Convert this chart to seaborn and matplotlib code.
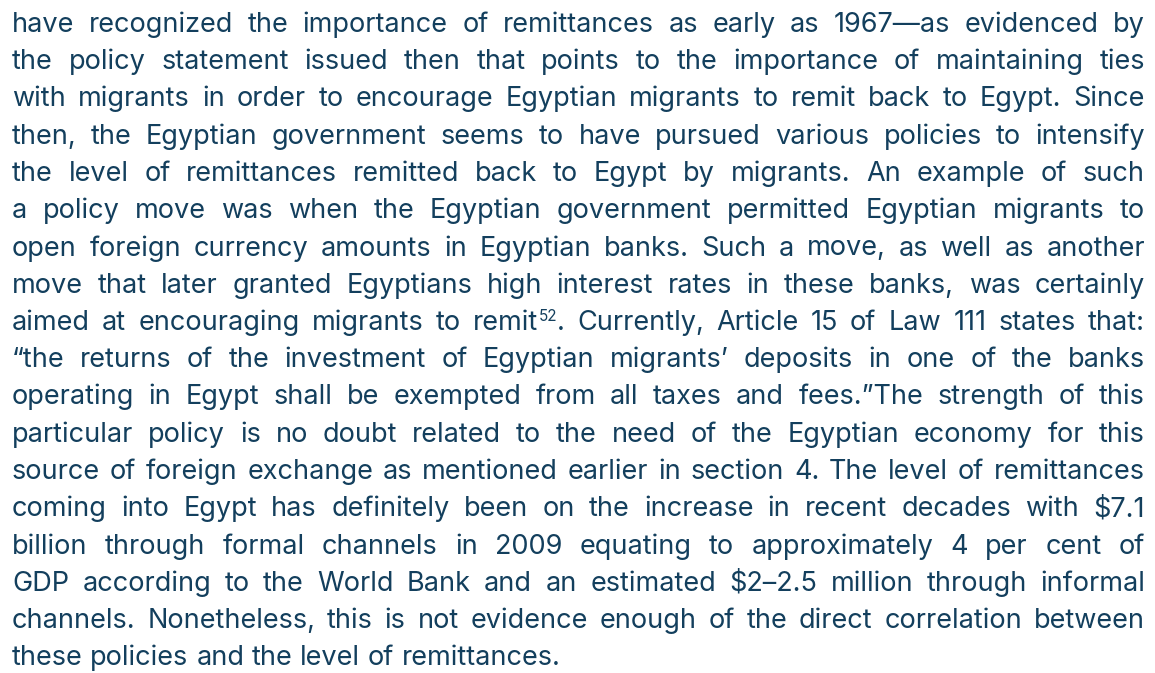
import re
import matplotlib
matplotlib.use("Agg")
import matplotlib.pyplot as plt
import seaborn as sns

# Paragraph text, one entry per printed line ({..} marks a superscript)
LINES = [
    "have recognized the importance of remittances as early as 1967\u2014as evidenced by",
    "the policy statement issued then that points to the importance of maintaining ties",
    "with migrants in order to encourage Egyptian migrants to remit back to Egypt. Since",
    "then, the Egyptian government seems to have pursued various policies to intensify",
    "the level of remittances remitted back to Egypt by migrants. An example of such",
    "a policy move was when the Egyptian government permitted Egyptian migrants to",
    "open foreign currency amounts in Egyptian banks. Such a move, as well as another",
    "move that later granted Egyptians high interest rates in these banks, was certainly",
    "aimed at encouraging migrants to remit{52}. Currently, Article 15 of Law 111 states that:",
    "\u201cthe returns of the investment of Egyptian migrants\u2019 deposits in one of the banks",
    "operating in Egypt shall be exempted from all taxes and fees.\u201dThe strength of this",
    "particular policy is no doubt related to the need of the Egyptian economy for this",
    "source of foreign exchange as mentioned earlier in section 4. The level of remittances",
    "coming into Egypt has definitely been on the increase in recent decades with $7.1",
    "billion through formal channels in 2009 equating to approximately 4 per cent of",
    "GDP according to the World Bank and an estimated $2\u20132.5 million through informal",
    "channels. Nonetheless, this is not evidence enough of the direct correlation between",
    "these policies and the level of remittances.",
]

TEXT_COLOR = "#133f5d"
FONT_SIZE = 19.5
SUP_SIZE = 11
LEFT, RIGHT = 12, 1145
FIRST_BASELINE = 32
LINE_STEP = 37.25

sns.set_theme(style="white")
plt.rcParams["font.family"] = ["Inter", "DejaVu Sans"]

fig = plt.figure(figsize=(11.55, 6.73), dpi=100)
ax = fig.add_axes([0, 0, 1, 1])
ax.set_xlim(0, 1155)
ax.set_ylim(673, 0)
ax.axis("off")
renderer = fig.canvas.get_renderer()


def split_segments(word):
    """Split a word into (text, is_superscript) pieces."""
    parts = re.split(r"(\{[^}]*\})", word)
    return [(p[1:-1], True) if p.startswith("{") else (p, False) for p in parts if p]


def text_width(txt, size):
    t = ax.text(0, 0, txt, fontsize=size, parse_math=False)
    w = t.get_window_extent(renderer).width
    t.remove()
    return w


def word_width(word):
    return sum(text_width(s, SUP_SIZE if sup else FONT_SIZE) for s, sup in split_segments(word))


space_w = text_width("a a", FONT_SIZE) - text_width("aa", FONT_SIZE)

for i, line in enumerate(LINES):
    y = FIRST_BASELINE + i * LINE_STEP
    words = line.split(" ")
    widths = [word_width(w) for w in words]
    # justify every line except the last one
    if i < len(LINES) - 1 and len(words) > 1:
        gap = (RIGHT - LEFT - sum(widths)) / (len(words) - 1)
    else:
        gap = space_w
    x = LEFT
    for w, ww in zip(words, widths):
        cx = x
        for seg, sup in split_segments(w):
            size = SUP_SIZE if sup else FONT_SIZE
            ax.text(cx, y - (9 if sup else 0), seg, fontsize=size, color=TEXT_COLOR,
                    va="baseline", ha="left", parse_math=False)
            cx += text_width(seg, size)
        x += ww + gap

fig.savefig("out.png", dpi=100)
